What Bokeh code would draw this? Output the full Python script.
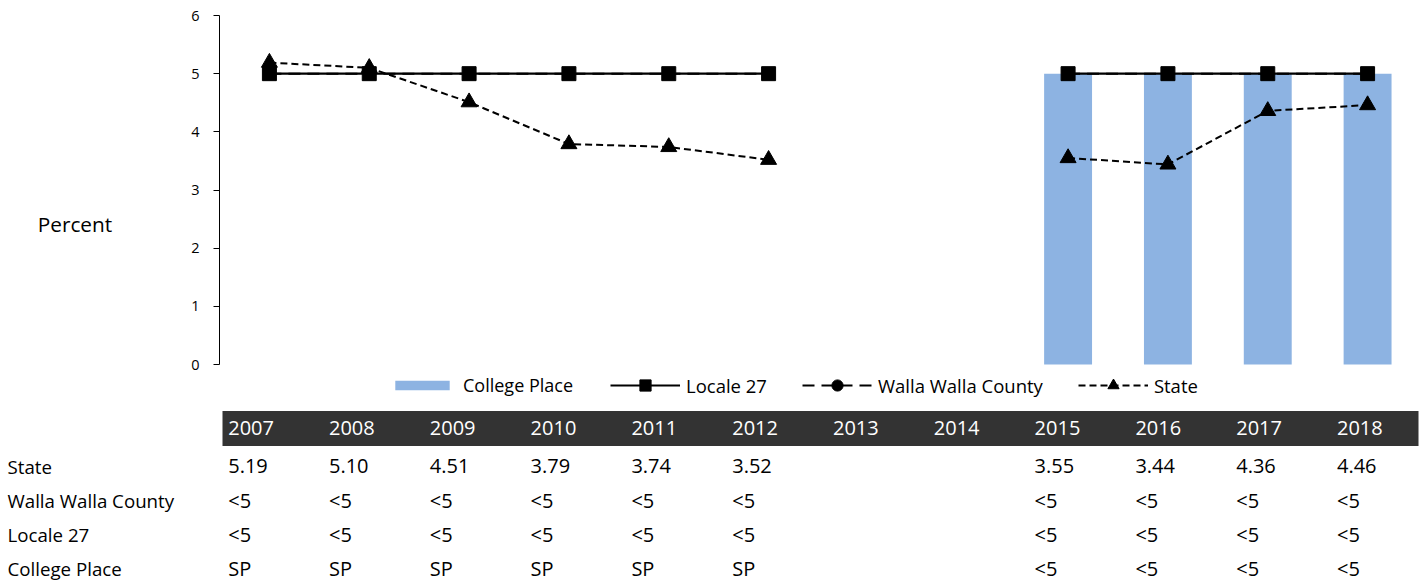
from bokeh.plotting import figure
from bokeh.models import Range1d, Legend, LegendItem, FixedTicker
from bokeh.layouts import column
from bokeh.embed import file_html
from bokeh.resources import INLINE
from bokeh.core.properties import value

NaN = float("nan")

# ---------------- data ----------------
years = [2007, 2008, 2009, 2010, 2011, 2012, 2013, 2014, 2015, 2016, 2017, 2018]
state = [5.19, 5.10, 4.51, 3.79, 3.74, 3.52, NaN, NaN, 3.55, 3.44, 4.36, 4.46]
walla_walla = [5, 5, 5, 5, 5, 5, NaN, NaN, 5, 5, 5, 5]
locale_27 = [5, 5, 5, 5, 5, 5, NaN, NaN, 5, 5, 5, 5]
college_place = [NaN, NaN, NaN, NaN, NaN, NaN, NaN, NaN, 5, 5, 5, 5]

year_labels = [str(y) for y in years]
state_txt = ["5.19", "5.10", "4.51", "3.79", "3.74", "3.52", "", "", "3.55", "3.44", "4.36", "4.46"]
walla_txt = ["<5", "<5", "<5", "<5", "<5", "<5", "", "", "<5", "<5", "<5", "<5"]
locale_txt = ["<5", "<5", "<5", "<5", "<5", "<5", "", "", "<5", "<5", "<5", "<5"]
college_txt = ["SP", "SP", "SP", "SP", "SP", "SP", "", "", "<5", "<5", "<5", "<5"]
row_names = ["State", "Walla Walla County", "Locale 27", "College Place"]
row_texts = [state_txt, walla_txt, locale_txt, college_txt]

FONT = "Open Sans"
BAR = "#8DB3E2"

# ---------------- chart ----------------
p = figure(frame_width=1198, frame_height=394,
           x_range=Range1d(years[0] - 0.5, years[-1] + 0.5),
           y_range=Range1d(-0.7736, 6),
           output_backend="svg", toolbar_location=None,
           x_axis_location=None, frame_align=False,
           min_border_left=219, min_border_top=15, min_border_right=7, min_border_bottom=0,
           outline_line_color=None, background_fill_color="white")
p.grid.visible = False

ya = p.yaxis[0]
ya.ticker = FixedTicker(ticks=[0, 1, 2, 3, 4, 5, 6])
ya.bounds = (0, 6)
ya.minor_tick_line_color = None
ya.major_tick_in = 0
ya.major_tick_out = 6
ya.major_label_standoff = 14
ya.axis_line_color = "black"
ya.major_tick_line_color = "black"
ya.major_label_text_font = FONT
ya.major_label_text_font_size = "14.5px"
ya.major_label_text_color = "black"
ya.axis_label = "\nPercent"
ya.axis_label_orientation = "horizontal"
ya.axis_label_standoff = 76
ya.axis_label_text_font = FONT
ya.axis_label_text_font_size = "20.8px"
ya.axis_label_text_font_style = "normal"
ya.axis_label_text_color = "black"
ya.axis_label_text_line_height = 0.8

r_bar = p.vbar(x=years, top=college_place, bottom=0, width=0.48,
               fill_color=BAR, line_color=None)

r_ww_line = p.line(years, walla_walla, line_color="black", line_width=2, line_dash="12 7")
r_ww_pts = p.scatter(years, walla_walla, marker="circle", size=11,
                     fill_color="black", line_color="black")

r_st_line = p.line(years, state, line_color="black", line_width=2, line_dash="7 4")
r_st_pts = p.scatter(years, state, marker="triangle", size=16,
                     fill_color="black", line_color="black")

r_lc_line = p.line(years, locale_27, line_color="black", line_width=2.2)
r_lc_pts = p.scatter(years, locale_27, marker="square", size=14,
                     fill_color="black", line_color="black")

leg1 = Legend(items=[LegendItem(label="College Place", renderers=[r_bar])],
              location=(169, 12), orientation="horizontal",
              glyph_width=68, glyph_height=12, label_standoff=7,
              padding=0, margin=0, border_line_color=None,
              background_fill_alpha=0,
              label_text_font=FONT, label_text_font_size="18px",
              label_text_color="black")
leg2 = Legend(items=[LegendItem(label="Locale 27", renderers=[r_lc_line, r_lc_pts]),
                     LegendItem(label="Walla Walla County", renderers=[r_ww_line, r_ww_pts]),
                     LegendItem(label="State", renderers=[r_st_line, r_st_pts])],
              location=(391, 10), orientation="horizontal",
              glyph_width=70, glyph_height=28, label_standoff=6, spacing=35,
              padding=0, margin=0, border_line_color=None,
              background_fill_alpha=0,
              label_text_font=FONT, label_text_font_size="18.5px",
              label_text_color="black")
p.add_layout(leg1)
p.add_layout(leg2)

# ---------------- table ----------------
t_start = 2004.7411
t_end = 2018.8681
t = figure(width=1424, height=172,
           x_range=Range1d(t_start, t_end), y_range=Range1d(4.377, -0.652),
           output_backend="svg", toolbar_location=None,
           x_axis_location=None, y_axis_location=None, frame_align=False,
           min_border=0, outline_line_color=None)
t.grid.visible = False

HEADER_Y = -0.0965
t.hbar(y=[HEADER_Y], left=[years[0] - 0.0565], right=[2018.8086], height=1.023,
       fill_color="#333333", line_color=None)
t.text(x=years, y=[HEADER_Y] * len(years), text=year_labels,
       text_align="left", text_baseline="middle",
       text_font=value(FONT), text_font_size="20px", text_color="white")

rows = list(range(1, len(row_names) + 1))
t.text(x=[2004.8105] * len(row_names), y=rows, text=row_names,
       text_align="left", text_baseline="middle",
       text_font=value(FONT), text_font_size="18.7px", text_color="black")

for row, vals in zip(rows, row_texts):
    t.text(x=years, y=[row] * len(years), text=vals,
           text_align="left", text_baseline="middle",
           text_font=value(FONT), text_font_size="20px", text_color="black")

layout = column(p, t, spacing=0)
open("out.html", "w").write(file_html(layout, INLINE))
